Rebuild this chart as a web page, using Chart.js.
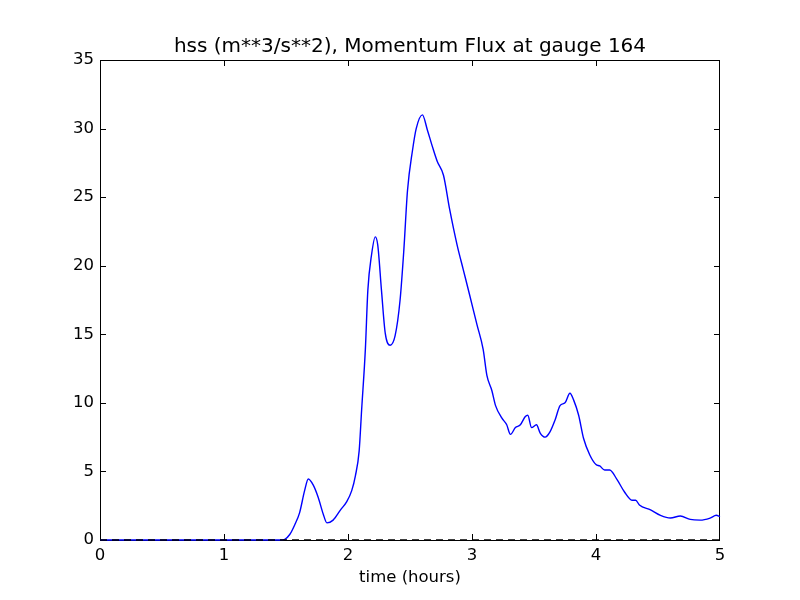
<!DOCTYPE html>
<html>
<head>
<meta charset="utf-8">
<script src="https://cdn.jsdelivr.net/npm/chart.js@4/dist/chart.umd.min.js"></script>
<style>
  body { margin: 0; background: #fff; }
</style>
</head>
<body>
<canvas id="myChart" width="800" height="600"></canvas>
<script>
const titleText = 'hss (m**3/s**2), Momentum Flux at gauge 164';
const xLabel = 'time (hours)';

// time in hours, flux
const times = [0, 0.5, 1.0, 1.45, 1.49, 1.53, 1.57, 1.61, 1.65, 1.68, 1.72, 1.76, 1.80, 1.83, 1.88, 1.94, 1.99, 2.03,
  2.06, 2.09, 2.11, 2.14, 2.16, 2.19, 2.22, 2.24, 2.27, 2.30, 2.34, 2.38, 2.42, 2.45, 2.48, 2.52, 2.55,
  2.60, 2.64, 2.68, 2.72, 2.77, 2.82, 2.88, 2.93, 2.98, 3.04, 3.09, 3.12, 3.16, 3.19, 3.24, 3.28, 3.31,
  3.35, 3.39, 3.43, 3.45, 3.48, 3.52, 3.55, 3.59, 3.63, 3.67, 3.71, 3.75, 3.79, 3.82, 3.86, 3.90, 3.95,
  4.00, 4.03, 4.07, 4.11, 4.17, 4.23, 4.29, 4.32, 4.35, 4.44, 4.52, 4.60, 4.68, 4.76, 4.84, 4.92, 4.97, 5.00];
const flux = [0, 0, 0, 0, 0.05, 0.4, 1.1, 2.0, 3.6, 4.45, 4.0, 3.1, 1.9, 1.25, 1.45, 2.2, 2.8, 3.6,
  4.7, 6.5, 9.5, 13.9, 18.2, 20.8, 22.1, 21.5, 18.2, 15.1, 14.2, 14.9, 17.5, 21.1, 25.5, 28.4, 30.0,
  31.0, 29.9, 28.7, 27.6, 26.6, 24.1, 21.5, 19.7, 17.9, 15.7, 13.9, 12.0, 10.9, 9.8, 8.9, 8.4, 7.7,
  8.2, 8.4, 9.0, 9.1, 8.2, 8.4, 7.8, 7.5, 7.9, 8.75, 9.8, 10.0, 10.7, 10.2, 9.1, 7.4, 6.2,
  5.5, 5.4, 5.1, 5.1, 4.4, 3.5, 2.9, 2.9, 2.55, 2.2, 1.8, 1.6, 1.75, 1.5, 1.45, 1.6, 1.8, 1.7];

const xTicks = [0, 1, 2, 3, 4, 5];
const yTicks = [0, 5, 10, 15, 20, 25, 30, 35];

// frame + inward ticks on all four sides, like matplotlib classic
const framePlugin = {
  id: 'frame',
  beforeDatasetsDraw(chart) {
    const { ctx, chartArea: a, scales } = chart;
    ctx.save();
    ctx.strokeStyle = '#000';
    ctx.lineWidth = 1;
    ctx.strokeRect(a.left + 0.5, a.top + 0.5, a.right - a.left - 1, a.bottom - a.top);
    ctx.beginPath();
    xTicks.forEach(v => {
      const px = Math.min(Math.round(scales.x.getPixelForValue(v)), a.right - 1) + 0.5;
      ctx.moveTo(px, a.bottom); ctx.lineTo(px, a.bottom - 6);
      ctx.moveTo(px, a.top); ctx.lineTo(px, a.top + 6);
    });
    yTicks.forEach(v => {
      const py = Math.round(scales.y.getPixelForValue(v)) + 0.5;
      ctx.moveTo(a.left, py); ctx.lineTo(a.left + 6, py);
      ctx.moveTo(a.right, py); ctx.lineTo(a.right - 6, py);
    });
    ctx.stroke();
    // title centred over the plot area
    ctx.fillStyle = '#000';
    ctx.font = '20px "DejaVu Sans"';
    ctx.textAlign = 'center';
    ctx.textBaseline = 'alphabetic';
    ctx.fillText(titleText, (a.left + a.right) / 2, 52);
    ctx.restore();
  }
};

const font = { family: 'DejaVu Sans', size: 16.5 };

new Chart(document.getElementById('myChart'), {
  type: 'line',
  data: {
    datasets: [
      {
        data: [{ x: 0, y: 0 }, { x: 5, y: 0 }],
        borderColor: '#000',
        borderWidth: 1.5,
        borderDash: [7, 5],
        pointRadius: 0,
        clip: false
      },
      {
        data: times.map((t, i) => ({ x: t, y: flux[i] })),
        borderColor: '#0000ff',
        borderWidth: 1.4,
        pointRadius: 0,
        cubicInterpolationMode: 'monotone',
        clip: false
      }
    ]
  },
  options: {
    responsive: false,
    animation: false,
    layout: { padding: { left: 0, right: 80, top: 60, bottom: 0 } },
    plugins: {
      legend: { display: false },
      tooltip: { enabled: false },
      title: { display: false }
    },
    scales: {
      x: {
        type: 'linear',
        min: 0, max: 5,
        afterBuildTicks: s => { s.ticks = xTicks.map(v => ({ value: v })); },
        afterFit: s => { s.height = 60; },
        grid: { display: false, drawTicks: false },
        border: { display: false },
        ticks: { color: '#000', font: font, padding: 6, maxRotation: 0 },
        title: { display: true, text: xLabel, color: '#000', font: font, padding: { top: 0, bottom: 12 } }
      },
      y: {
        min: 0, max: 35,
        afterBuildTicks: s => { s.ticks = yTicks.map(v => ({ value: v })); },
        afterFit: s => { s.width = 100; },
        grid: { display: false, drawTicks: false },
        border: { display: false },
        ticks: { color: '#000', font: font, padding: 6 }
      }
    }
  },
  plugins: [framePlugin]
});
</script>
</body>
</html>
